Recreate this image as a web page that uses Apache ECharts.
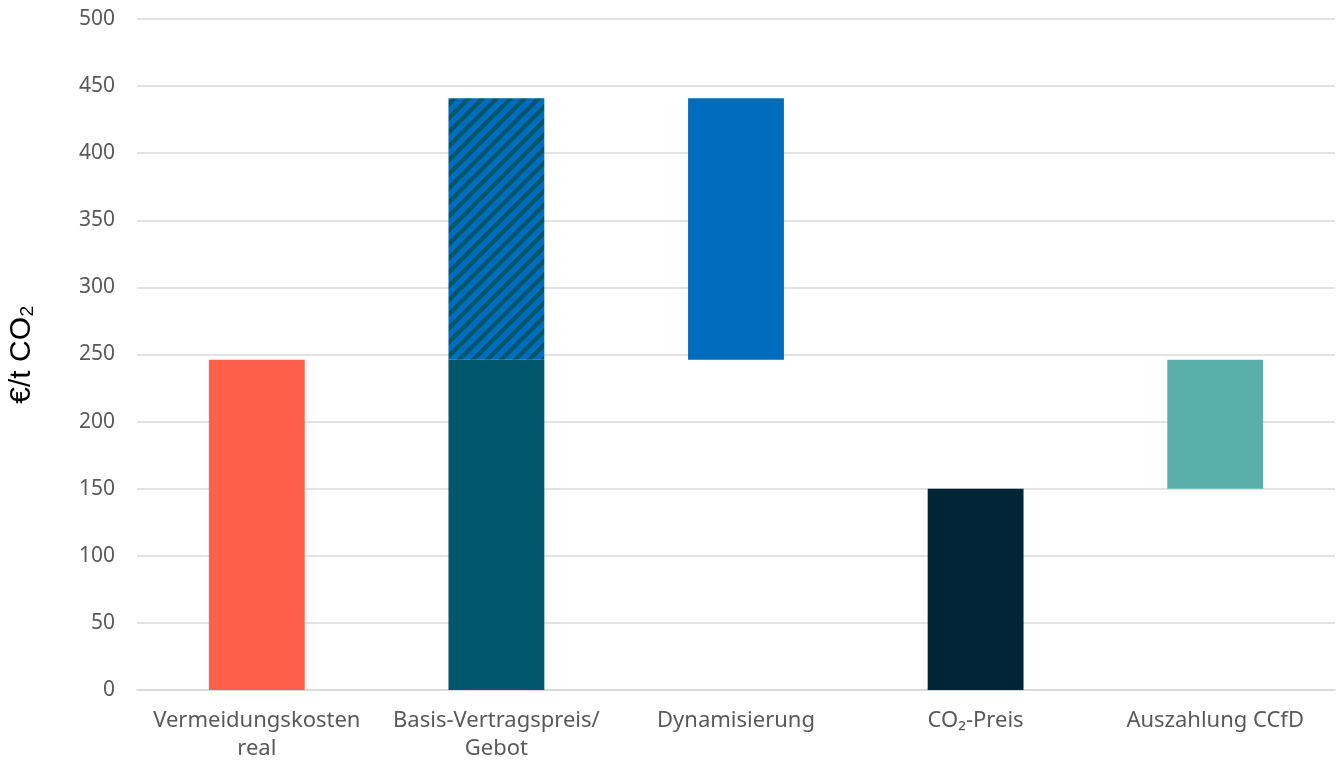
<!DOCTYPE html>
<html>
<head>
<meta charset="utf-8">
<title>CCfD</title>
<script src="https://cdn.jsdelivr.net/npm/echarts@6/dist/echarts.min.js"></script>
<style>
  html, body { margin: 0; padding: 0; background: #fff; }
  #main { width: 1340px; height: 762px; }
</style>
</head>
<body>
<div id="main"></div>
<script>
// Daten
var categories = ['Vermeidungskosten\nreal', 'Basis-Vertragspreis/\nGebot', 'Dynamisierung', 'CO₂-Preis', 'Auszahlung CCfD'];
var baseValues = [0, 0, 246, 0, 150];        // unsichtbarer Sockel
var solidValues = [246, 246, 195, 150, 96];  // volle Balken
var hatchValues = ['-', 195, '-', '-', '-']; // schraffierter Teil
var yTicks = { min: 0, max: 500, interval: 50 };

var barColors = ['#FF604B', '#00566B', '#006CBE', '#002537', '#5BAFAA'];

// Schraffur als Canvas-Muster
function makeHatch() {
  var s = 14;
  var c = document.createElement('canvas');
  c.width = s; c.height = s;
  var ctx = c.getContext('2d');
  ctx.fillStyle = '#00566B';
  ctx.fillRect(0, 0, s, s);
  ctx.strokeStyle = '#006CBE';
  ctx.lineWidth = 5.5;
  ctx.beginPath();
  ctx.moveTo(-s, 2 * s); ctx.lineTo(2 * s, -s);
  ctx.moveTo(-s, s); ctx.lineTo(s, -s);
  ctx.moveTo(0, 2 * s); ctx.lineTo(2 * s, 0);
  ctx.stroke();
  return c;
}

var myChart = echarts.init(document.getElementById('main'));
var font = '"Noto Sans", sans-serif';

var option = {
  animation: false,
  grid: { left: 137, right: 5, top: 19, bottom: 72, containLabel: false, outerBoundsMode: 'none' },
  xAxis: {
    type: 'category',
    data: categories,
    axisTick: { show: false },
    axisLine: { lineStyle: { color: '#D9D9D9', width: 1.5 } },
    axisLabel: {
      color: '#595959',
      fontFamily: font,
      fontSize: 22,
      lineHeight: 28,
      margin: 17,
      interval: 0
    }
  },
  yAxis: {
    type: 'value',
    min: yTicks.min,
    max: yTicks.max,
    interval: yTicks.interval,
    name: '€/t CO₂',
    nameLocation: 'middle',
    nameGap: 100,
    nameTextStyle: { color: '#000', fontFamily: '"Liberation Sans", Arial, sans-serif', fontSize: 30 },
    axisLine: { show: false },
    axisTick: { show: false },
    axisLabel: { color: '#595959', fontFamily: font, fontSize: 21, margin: 22 },
    splitLine: { lineStyle: { color: '#D9D9D9', width: 1.5 } }
  },
  series: [
    {
      name: 'Sockel',
      type: 'bar',
      stack: 'a',
      barWidth: '40%',
      silent: true,
      itemStyle: { color: 'transparent' },
      data: baseValues
    },
    {
      name: 'Wert',
      type: 'bar',
      stack: 'a',
      barWidth: '40%',
      data: solidValues.map(function (v, i) {
        return { value: v, itemStyle: { color: barColors[i] } };
      })
    },
    {
      name: 'Schraffur',
      type: 'bar',
      stack: 'a',
      barWidth: '40%',
      itemStyle: { color: { image: makeHatch(), repeat: 'repeat' } },
      data: hatchValues
    }
  ]
};
myChart.setOption(option);
</script>
</body>
</html>
